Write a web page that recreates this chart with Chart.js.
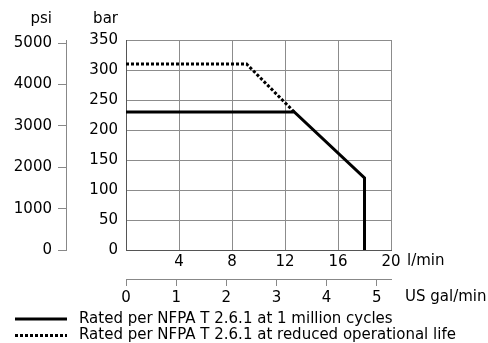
<!DOCTYPE html>
<html>
<head>
<meta charset="utf-8">
<script src="https://cdn.jsdelivr.net/npm/chart.js@4/dist/chart.umd.min.js"></script>
<style>
  body { margin: 0; background: #fff; }
  #wrap { width: 488px; height: 343px; }
</style>
</head>
<body>
<div id="wrap"><canvas id="pressure" width="488" height="343"></canvas></div>
<script>
// flow in l/min, pressure in bar
var ratedFlow = [0, 12.7, 18, 18];
var ratedPressure = [230, 230, 120, 0];
var reducedFlow = [0, 9.1, 12.7];
var reducedPressure = [310, 310, 230];
var seriesNames = ['Rated per NFPA T 2.6.1 at 1 million cycles', 'Rated per NFPA T 2.6.1 at reduced operational life'];
var psiTicks = [0, 1000, 2000, 3000, 4000, 5000];
var galTicks = [0, 1, 2, 3, 4, 5];

var BAR_TO_PSI = 14.5038;
var LPM_PER_GPM = 3.785;
var FONT = "'DejaVu Sans', Verdana, sans-serif";
var SIZE = 15;

function points(xs, ys) {
    return xs.map(function (x, i) { return { x: x, y: ys[i] }; });
}

function fixedTicks(list) {
    return function (scale) {
        scale.ticks = list.map(function (v) { return { value: v }; });
    };
}

var labelsPlugin = {
    id: 'labels',
    afterDraw: function (chart) {
        var ctx = chart.ctx;
        ctx.save();
        ctx.fillStyle = '#000';
        ctx.font = SIZE + 'px ' + FONT;
        ctx.textBaseline = 'middle';
        ctx.textAlign = 'right';
        ctx.fillText('psi', 52, 19);
        ctx.fillText('bar', 118, 19);
        ctx.textAlign = 'left';
        ctx.fillText('l/min', 407, 261);
        ctx.fillText('US gal/min', 405, 297);

        // legend
        chart.data.datasets.forEach(function (ds, i) {
            var y = 319 + i * 16.5;
            ctx.beginPath();
            ctx.lineWidth = ds.borderWidth;
            ctx.strokeStyle = ds.borderColor;
            ctx.setLineDash(ds.borderDash || []);
            ctx.moveTo(15, y);
            ctx.lineTo(67, y);
            ctx.stroke();
            ctx.setLineDash([]);
            ctx.fillText(ds.label, 79, y);
        });
        ctx.restore();
    }
};

window.addEventListener('load', function () {
    var ctx = document.getElementById('pressure').getContext('2d');
    new Chart(ctx, {
        type: 'line',
        data: {
            datasets: [
                {
                    label: seriesNames[0],
                    data: points(ratedFlow, ratedPressure),
                    borderColor: '#000',
                    borderWidth: 3,
                    pointRadius: 0,
                    tension: 0
                },
                {
                    label: seriesNames[1],
                    data: points(reducedFlow, reducedPressure),
                    borderColor: '#000',
                    borderWidth: 3,
                    borderDash: [3, 2],
                    pointRadius: 0,
                    tension: 0
                }
            ]
        },
        options: {
            responsive: false,
            animation: false,
            layout: { padding: { left: 0, top: 40, right: 97, bottom: 36 } },
            plugins: {
                legend: { display: false },
                tooltip: { enabled: false }
            },
            scales: {
                x: {
                    type: 'linear',
                    position: 'bottom',
                    min: 0,
                    max: 20,
                    weight: 0,
                    afterFit: function (s) { s.height = 29; },
                    grid: { color: '#8c8c8c', drawTicks: false },
                    border: { color: '#555' },
                    ticks: {
                        stepSize: 4,
                        padding: 3,
                        color: '#000',
                        font: { family: FONT, size: SIZE },
                        callback: function (v) { return v === 0 ? '' : v; }
                    }
                },
                xGal: {
                    type: 'linear',
                    position: 'bottom',
                    min: 0,
                    max: 20 / LPM_PER_GPM,
                    weight: 1,
                    afterBuildTicks: fixedTicks(galTicks),
                    afterFit: function (s) { s.height = 28; },
                    grid: { drawOnChartArea: false, color: '#888', tickLength: 7 },
                    border: { color: '#888' },
                    ticks: {
                        padding: 3,
                        color: '#000',
                        font: { family: FONT, size: SIZE }
                    }
                },
                y: {
                    type: 'linear',
                    position: 'left',
                    min: 0,
                    max: 350,
                    weight: 0,
                    afterFit: function (s) { s.width = 60; },
                    grid: { color: '#8c8c8c', drawTicks: false },
                    border: { color: '#555' },
                    ticks: {
                        stepSize: 50,
                        padding: 8,
                        color: '#000',
                        font: { family: FONT, size: SIZE }
                    }
                },
                yPsi: {
                    type: 'linear',
                    position: 'left',
                    min: 0,
                    max: 350 * BAR_TO_PSI,
                    weight: 1,
                    afterBuildTicks: fixedTicks(psiTicks),
                    afterFit: function (s) { s.width = 66; },
                    grid: { drawOnChartArea: false, color: '#888', tickLength: 8 },
                    border: { color: '#888' },
                    ticks: {
                        padding: 6,
                        color: '#000',
                        font: { family: FONT, size: SIZE },
                        callback: function (v) { return String(v); }
                    }
                }
            }
        },
        plugins: [labelsPlugin]
    });
});
</script>
</body>
</html>
